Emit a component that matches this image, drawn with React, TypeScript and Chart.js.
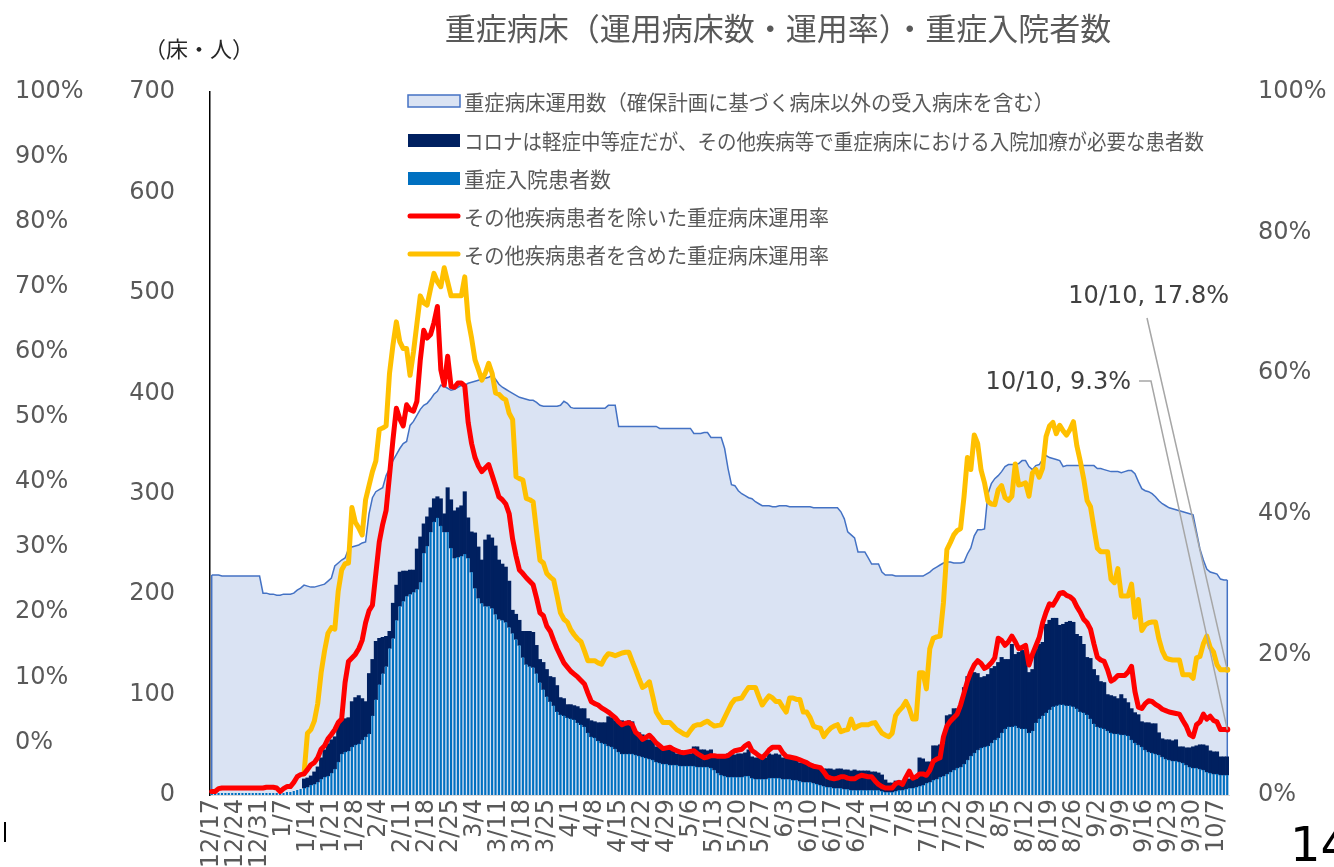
import React, { useEffect, useRef } from 'react';
import { Chart, registerables } from 'chart.js';

Chart.register(...registerables);

const TITLE = '重症病床（運用病床数・運用率）・重症入院者数';
const UNIT_LABEL = '（床・人）';
const LEGEND_LABELS = [
  '重症病床運用数（確保計画に基づく病床以外の受入病床を含む）',
  'コロナは軽症中等症だが、その他疾病等で重症病床における入院加療が必要な患者数',
  '重症入院患者数',
  'その他疾病患者を除いた重症病床運用率',
  'その他疾病患者を含めた重症病床運用率',
];
const ANNOT_DATE = '10/10';
const ANNOT_ORANGE = 17.8;
const ANNOT_RED = 9.3;
const PAGE_NO = '14';

// daily categories 2020/12/17 .. 2021/10/10
const N_DAYS = 298;
const CATEGORIES: string[] = [];
for (let i = 0; i < N_DAYS; i++) {
  const d = new Date(2020, 11, 17 + i);
  CATEGORIES.push(`${d.getMonth() + 1}/${d.getDate()}`);
}

const TICK_LABELS = ['12/17','12/24','12/31','1/7','1/14','1/21','1/28','2/4','2/11','2/18','2/25','3/4','3/11','3/18','3/25','4/1','4/8','4/15','4/22','4/29','5/6','5/13','5/20','5/27','6/3','6/10','6/17','6/24','7/1','7/8','7/15','7/22','7/29','8/5','8/12','8/19','8/26','9/2','9/9','9/16','9/23','9/30','10/7'];
const COUNT_TICKS = [0, 100, 200, 300, 400, 500, 600, 700];
const LEFT_PCT_TICKS = [0, 10, 20, 30, 40, 50, 60, 70, 80, 90, 100];
const RIGHT_PCT_TICKS = [0, 20, 40, 60, 80, 100];

// 重症病床運用数
const BEDS = [
  219,219,219,218,218,218,218,
  218,218,218,218,218,218,218,
  218,201,201,200,200,199,199,
  200,200,200,201,204,206,209,
  208,207,207,208,209,210,213,
  216,228,231,234,236,245,247,
  248,249,251,252,280,296,302,
  304,306,318,325,333,339,345,
  350,352,368,372,378,384,388,
  390,394,399,402,408,407,405,
  403,404,406,408,408,410,411,
  412,413,414,415,416,418,414,
  409,406,404,402,400,398,396,
  395,394,393,393,391,388,387,
  387,387,387,387,388,392,390,
  386,385,385,385,385,385,385,
  385,385,385,385,388,388,388,
  367,367,367,367,367,367,367,
  367,367,367,367,367,365,365,
  365,365,365,365,365,365,365,
  365,360,360,360,361,361,356,
  356,356,356,345,325,309,308,
  303,300,298,296,295,292,290,
  288,288,288,287,287,288,288,
  288,287,287,287,287,287,287,
  287,286,286,286,286,286,286,
  286,286,282,275,262,259,256,
  242,242,242,236,230,230,230,
  222,219,219,219,218,218,218,
  218,218,218,218,218,218,220,
  222,225,227,229,231,232,232,
  231,231,231,232,240,246,258,
  264,264,265,300,310,315,318,
  322,327,329,329,329,330,333,
  333,327,324,328,329,334,338,
  336,335,334,333,327,328,328,
  328,328,328,328,328,328,328,
  325,325,324,323,322,322,322,
  321,322,323,323,320,312,305,
  303,302,300,297,293,290,288,
  286,285,284,283,282,281,280,
  279,262,245,234,225,222,221,
  220,215,214,214,
];

// 重症入院患者数
const SEVERE = [
  1,1,2,2,2,2,2,
  2,2,2,2,2,2,2,
  2,2,2,2,2,2,1,
  2,3,3,4,5,6,7,
  8,10,11,13,16,18,19,
  22,26,33,41,43,44,48,
  50,51,55,58,61,79,95,
  110,121,128,146,156,174,188,
  193,198,200,202,205,212,241,
  248,262,272,276,268,262,262,
  246,236,237,238,240,236,222,
  206,196,191,188,188,186,180,
  175,174,172,167,161,155,149,
  137,130,128,127,121,112,105,
  98,93,89,83,80,79,77,
  76,75,72,70,68,62,58,
  57,54,52,51,49,48,46,
  43,41,41,41,41,40,39,
  38,37,36,35,33,32,31,
  31,30,30,30,29,29,29,
  29,29,28,28,28,28,27,
  25,22,20,19,18,18,18,
  18,18,19,19,17,16,16,
  16,16,17,17,17,17,16,
  16,16,15,15,14,13,13,
  13,12,11,10,9,8,8,
  7,7,7,6,6,5,5,
  5,5,5,5,5,5,5,
  4,3,3,3,4,5,5,
  6,7,7,8,9,10,12,
  13,15,16,18,19,21,23,
  25,27,28,31,35,39,42,
  45,47,48,49,52,55,57,
  62,66,68,68,69,67,66,
  66,62,64,72,76,79,82,
  85,88,89,90,90,89,89,
  88,86,83,82,80,76,71,
  68,67,66,64,62,61,61,
  60,60,59,55,52,50,48,
  45,43,42,41,40,38,36,
  35,34,34,33,32,30,28,
  27,27,26,25,23,22,21,
  21,20,20,20,
];

// コロナは軽症中等症だが、その他疾病等で重症病床における入院加療が必要な患者数
const OTHER = [
  null,null,null,null,null,null,null,
  null,null,null,null,null,null,null,
  null,null,null,null,null,null,null,
  null,null,null,null,null,null,9,
  9,9,12,15,21,27,32,
  33,32,37,35,33,33,45,
  47,48,41,35,60,56,58,
  46,36,30,17,35,35,34,
  30,25,24,22,40,45,29,
  29,24,23,21,27,18,44,
  48,47,49,50,62,40,40,
  55,51,43,66,71,70,68,
  59,56,55,46,23,25,25,
  26,33,35,35,28,23,27,
  27,25,28,26,17,17,13,
  14,14,16,16,18,14,16,
  16,18,20,21,29,29,28,
  31,33,32,33,32,22,23,
  22,18,19,19,15,16,16,
  14,15,14,11,12,11,12,
  12,19,20,17,17,16,18,
  13,15,17,19,23,23,22,
  23,23,23,26,21,21,21,
  20,21,24,23,24,23,21,
  21,21,21,22,18,19,18,
  18,15,15,16,17,18,18,
  18,19,19,19,19,19,20,
  19,19,19,19,18,18,17,
  16,12,9,9,10,9,9,
  10,9,9,8,28,26,21,
  20,34,33,32,32,58,57,
  61,59,58,76,83,82,80,
  76,70,70,71,74,73,75,
  75,69,67,82,71,75,78,
  77,60,61,73,74,73,88,
  89,88,87,79,80,83,84,
  84,74,75,68,57,60,54,
  51,46,46,36,37,37,35,
  40,36,33,31,30,30,25,
  27,29,29,30,22,18,19,
  20,20,21,15,16,17,19,
  21,22,24,25,26,22,22,
  22,18,18,18,
];

// その他疾病患者を除いた重症病床運用率 (%)
const RATE_EXCL = [
  0.5,0.5,0.9,1.0,1.0,1.0,1.0,
  1.0,1.0,1.0,1.0,1.0,1.0,1.0,
  1.0,1.0,1.1,1.1,1.1,1.0,0.5,
  0.9,1.2,1.2,1.8,2.6,2.9,3.0,
  3.6,4.3,4.6,5.3,6.5,7.0,8.0,
  8.6,9.3,10.3,10.8,16.0,19.0,19.5,
  20.0,20.8,22.0,24.5,26.2,27.0,31.5,
  36.0,38.5,40.5,45.5,50.5,55.0,53.5,
  52.5,55.5,54.8,54.6,56.0,61.9,66.1,
  65.0,65.5,67.2,69.5,60.5,58.3,62.4,
  58.1,58.0,58.6,58.6,58.2,53.0,50.0,
  48.0,46.8,46.0,46.5,47.0,45.5,44.0,
  42.4,42.0,41.4,40.0,36.4,34.0,32.0,
  31.5,30.9,30.4,29.9,28.0,25.9,25.5,
  24.0,23.3,22.0,20.8,19.8,18.8,18.2,
  17.6,17.2,16.8,16.3,15.8,14.5,13.3,
  13.0,12.8,12.4,12.1,11.8,11.4,11.0,
  10.4,10.0,10.2,10.3,10.0,8.9,8.5,
  7.9,8.2,8.5,8.0,7.4,7.0,6.6,
  6.7,6.8,6.5,6.3,6.1,6.0,6.1,
  6.2,6.3,5.9,5.6,5.3,5.4,5.6,
  5.6,5.5,5.5,5.5,5.6,6.0,6.3,
  6.4,6.5,7.0,7.3,6.3,6.0,5.6,
  5.3,5.8,6.4,6.8,6.8,6.8,6.0,
  5.5,5.4,5.3,5.2,5.0,4.8,4.6,
  4.3,4.1,4.0,3.9,3.3,2.6,2.4,
  2.3,2.4,2.6,2.6,2.4,2.3,2.3,
  2.6,2.8,2.7,2.6,2.6,2.0,1.5,
  1.2,1.0,1.0,1.0,1.6,1.8,1.5,
  2.5,3.4,2.4,2.6,3.0,3.0,2.8,
  3.5,4.8,5.1,5.3,8.3,9.8,10.5,
  11.0,11.5,12.8,14.5,16.2,17.5,18.5,
  19.1,18.7,18.0,18.3,18.8,19.5,22.3,
  22.0,21.3,21.8,22.6,21.8,20.8,21.0,
  21.3,18.5,20.0,21.2,22.4,24.5,26.0,
  27.2,27.0,27.8,28.7,28.8,28.4,28.2,
  27.8,26.8,26.0,25.0,24.5,23.6,21.5,
  19.6,19.2,19.0,17.8,16.2,16.5,17.0,
  17.0,17.0,17.5,18.3,14.7,12.5,12.3,
  13.0,13.4,13.3,12.9,12.6,12.2,12.0,
  11.8,11.7,11.6,11.5,10.6,9.8,8.6,
  8.3,10.0,10.4,11.5,10.8,11.2,10.6,
  10.4,9.3,9.3,9.3,
];

// その他疾病患者を含めた重症病床運用率 (%)
const RATE_INCL = [
  null,null,null,null,null,null,null,
  null,null,null,null,null,null,null,
  null,null,null,null,null,null,null,
  null,null,null,null,null,null,3.0,
  8.8,9.3,10.5,13.0,17.4,20.5,23.0,
  23.8,23.6,29.0,32.0,32.9,33.0,40.9,
  38.8,38.0,37.0,42.0,44.0,46.0,47.5,
  52.0,52.2,52.5,60.0,64.0,67.3,64.5,
  63.5,63.5,59.7,63.0,67.0,71.0,70.0,
  69.7,72.0,74.2,73.0,72.3,75.0,73.0,
  71.0,71.0,71.0,71.0,73.7,67.6,65.0,
  61.9,60.5,59.0,60.0,61.4,60.0,57.2,
  57.0,56.5,56.2,54.3,53.4,45.3,45.0,
  44.8,42.2,42.0,41.7,37.5,33.4,33.0,
  31.5,31.0,30.6,28.3,25.9,25.0,24.6,
  23.5,22.8,22.2,21.8,20.5,19.1,19.1,
  19.1,18.8,18.6,19.5,20.1,20.0,19.8,
  20.0,20.2,20.3,20.3,19.0,17.8,16.5,
  15.3,15.6,16.1,14.0,11.8,11.0,10.3,
  10.3,10.3,9.8,9.3,9.0,8.7,8.5,
  9.2,9.8,10.0,10.0,10.3,10.5,10.1,
  9.8,9.9,10.0,11.0,12.0,13.0,13.6,
  13.7,13.8,14.6,15.3,15.3,15.3,14.0,
  12.8,13.5,14.1,13.8,13.3,13.3,12.5,
  11.8,13.8,13.8,13.6,13.6,11.8,11.8,
  11.0,9.8,9.6,9.5,8.3,9.0,9.5,
  9.8,10.0,9.0,9.2,9.3,10.8,9.5,
  9.8,10.0,10.0,10.0,10.2,10.3,9.5,
  8.8,8.5,8.3,8.8,11.3,12.0,12.5,
  13.3,12.3,10.8,10.8,17.4,17.4,15.1,
  20.8,22.3,22.5,22.6,27.4,34.9,35.9,
  37.0,37.6,37.9,42.4,48.0,46.3,51.2,
  50.0,46.2,44.4,41.8,41.4,41.3,43.4,
  44.0,42.3,41.9,42.5,47.1,44.1,44.2,
  44.4,42.5,45.8,46.3,45.2,46.5,51.0,
  52.5,53.0,51.4,52.6,51.8,51.2,52.0,
  53.1,49.7,47.5,45.0,41.9,41.0,38.0,
  35.1,34.6,34.6,34.6,30.7,30.2,32.2,
  28.3,28.3,28.3,30.0,25.3,27.8,23.4,
  24.2,24.5,24.6,24.6,22.2,20.5,19.5,
  19.3,19.2,19.2,19.2,17.1,17.1,17.1,
  16.6,19.5,19.7,21.5,22.6,21.0,20.3,
  18.5,17.8,17.8,17.8,
];

const C_AREA_FILL = '#DAE3F3';
const C_AREA_LINE = '#4472C4';
const C_NAVY = '#002060';
const C_BLUE = '#0070C0';
const C_RED = '#FF0000';
const C_ORANGE = '#FFC000';
const C_TEXT = '#595959';
const NUM_FONT = '"DejaVu Sans", Verdana, sans-serif';
const JP_FONT = '"Noto Sans CJK JP", "Noto Sans", sans-serif';

const overlayPlugin = {
  id: 'overlay',
  afterDatasetDraw(chart: any, args: any) {
    if (args.index !== 0) return;
    const pts = args.meta.data;
    if (!pts || !pts.length) return;
    const ctx = chart.ctx;
    const base = chart.scales.y.getPixelForValue(0);
    ctx.save();
    ctx.strokeStyle = C_AREA_LINE;
    ctx.lineWidth = 1.5;
    ctx.beginPath();
    ctx.moveTo(pts[0].x, pts[0].y);
    ctx.lineTo(pts[0].x, base);
    ctx.moveTo(pts[pts.length - 1].x, pts[pts.length - 1].y);
    ctx.lineTo(pts[pts.length - 1].x, base);
    ctx.stroke();
    ctx.restore();
  },
  afterDraw(chart: any) {
    const ctx = chart.ctx;
    ctx.save();
    // title
    ctx.fillStyle = C_TEXT;
    ctx.font = `31px ${JP_FONT}`;
    ctx.textAlign = 'center';
    ctx.textBaseline = 'middle';
    ctx.fillText(TITLE, 778, 28);
    // unit label
    ctx.fillStyle = '#262626';
    ctx.font = `22px ${JP_FONT}`;
    ctx.fillText(UNIT_LABEL, 199, 49);

    // legend
    const lx = 408, lw = 52, tx = 464;
    const rows = [101, 140, 178, 216, 254];
    const widths = [590, 740, 152, 365, 365];
    ctx.fillStyle = C_AREA_FILL;
    ctx.fillRect(lx, rows[0] - 6, lw, 12);
    ctx.strokeStyle = C_AREA_LINE;
    ctx.lineWidth = 1.5;
    ctx.strokeRect(lx, rows[0] - 6, lw, 12);
    ctx.fillStyle = C_NAVY;
    ctx.fillRect(lx, rows[1] - 6, lw, 13);
    ctx.fillStyle = C_BLUE;
    ctx.fillRect(lx, rows[2] - 6, lw, 13);
    ctx.lineCap = 'round';
    ctx.lineWidth = 5;
    ctx.strokeStyle = C_RED;
    ctx.beginPath(); ctx.moveTo(lx + 2, rows[3]); ctx.lineTo(lx + lw - 2, rows[3]); ctx.stroke();
    ctx.strokeStyle = C_ORANGE;
    ctx.beginPath(); ctx.moveTo(lx + 2, rows[4]); ctx.lineTo(lx + lw - 2, rows[4]); ctx.stroke();
    ctx.fillStyle = C_TEXT;
    ctx.font = `21px ${JP_FONT}`;
    ctx.textAlign = 'left';
    ctx.textBaseline = 'middle';
    LEGEND_LABELS.forEach((t, i) => {
      const natural = ctx.measureText(t).width;
      if (natural > widths[i]) ctx.fillText(t, tx, rows[i] + 1, widths[i]);
      else ctx.fillText(t, tx, rows[i] + 1);
    });

    // annotations with leader lines
    const xs = chart.scales.x;
    const y2 = chart.scales.y2;
    const lastIdx = N_DAYS - 1;
    const px = xs.getPixelForValue(lastIdx);
    const oy = y2.getPixelForValue(RATE_INCL[lastIdx] as number);
    const ry = y2.getPixelForValue(RATE_EXCL[lastIdx]);
    ctx.lineCap = 'butt';
    ctx.strokeStyle = '#A6A6A6';
    ctx.lineWidth = 1.5;
    ctx.beginPath(); ctx.moveTo(1147, 318); ctx.lineTo(px, oy); ctx.stroke();
    ctx.beginPath(); ctx.moveTo(1139, 381); ctx.lineTo(1151, 381); ctx.lineTo(px, ry); ctx.stroke();
    ctx.fillStyle = '#404040';
    ctx.font = `24px ${NUM_FONT}`;
    ctx.textAlign = 'right';
    ctx.fillText(`${ANNOT_DATE}, ${ANNOT_ORANGE.toFixed(1)}%`, 1229, 297);
    ctx.fillText(`${ANNOT_DATE}, ${ANNOT_RED.toFixed(1)}%`, 1131, 383);

    // page number and edge mark
    ctx.fillStyle = '#000';
    ctx.font = `48px ${NUM_FONT}`;
    ctx.textAlign = 'left';
    ctx.textBaseline = 'alphabetic';
    ctx.fillText(PAGE_NO, 1290, 861);
    ctx.fillRect(4, 822, 2, 20);
    ctx.restore();
  },
};

export default function App() {
  const ref = useRef<HTMLCanvasElement | null>(null);
  useEffect(() => {
    if (!ref.current) return;
    Chart.defaults.font.family = NUM_FONT;
    Chart.defaults.font.size = 24;
    Chart.defaults.color = C_TEXT;
    const tickSet = new Set(TICK_LABELS);
    const chart = new Chart(ref.current, {
      type: 'bar',
      data: {
        labels: CATEGORIES,
        datasets: [
          {
            type: 'line',
            label: LEGEND_LABELS[0],
            data: BEDS,
            yAxisID: 'y',
            stack: 'area',
            fill: 'origin',
            backgroundColor: C_AREA_FILL,
            borderColor: C_AREA_LINE,
            borderWidth: 1.5,
            pointRadius: 0,
            tension: 0,
            order: 10,
          } as any,
          {
            type: 'bar',
            label: LEGEND_LABELS[2],
            data: SEVERE,
            yAxisID: 'y',
            stack: 'bars',
            backgroundColor: C_BLUE,
            borderWidth: 0,
            barPercentage: 0.62,
            categoryPercentage: 1,
            order: 3,
          },
          {
            type: 'bar',
            label: LEGEND_LABELS[1],
            data: OTHER,
            yAxisID: 'y',
            stack: 'bars',
            backgroundColor: C_NAVY,
            borderWidth: 0,
            barPercentage: 1,
            categoryPercentage: 1,
            order: 4,
          },
          {
            type: 'line',
            label: LEGEND_LABELS[4],
            data: RATE_INCL,
            yAxisID: 'y2',
            borderColor: C_ORANGE,
            backgroundColor: C_ORANGE,
            borderWidth: 5,
            pointRadius: (c: any) => (c.dataIndex === N_DAYS - 1 ? 3 : 0),
            pointBorderWidth: 0,
            borderJoinStyle: 'round',
            borderCapStyle: 'round',
            tension: 0,
            fill: false,
            order: 1,
          } as any,
          {
            type: 'line',
            label: LEGEND_LABELS[3],
            data: RATE_EXCL,
            yAxisID: 'y2',
            borderColor: C_RED,
            backgroundColor: C_RED,
            borderWidth: 5,
            pointRadius: (c: any) => (c.dataIndex === N_DAYS - 1 ? 3 : 0),
            pointBorderWidth: 0,
            borderJoinStyle: 'round',
            borderCapStyle: 'round',
            tension: 0,
            fill: false,
            order: 0,
          } as any,
        ],
      },
      options: {
        responsive: false,
        maintainAspectRatio: false,
        animation: false,
        devicePixelRatio: 1,
        events: [],
        layout: { padding: { top: 92, left: 15, right: 0, bottom: 0 } },
        plugins: {
          legend: { display: false },
          title: { display: false },
          tooltip: { enabled: false },
        },
        scales: {
          x: {
            type: 'category',
            offset: true,
            grid: { display: false, drawTicks: false },
            border: { display: true, color: '#D9D9D9', width: 1 },
            ticks: {
              autoSkip: false,
              maxRotation: 90,
              minRotation: 90,
              padding: 4,
              color: C_TEXT,
              font: { size: 24 },
              callback: (_v: any, i: number) => (tickSet.has(CATEGORIES[i]) ? CATEGORIES[i] : ''),
            },
            afterFit: (s: any) => { s.height = 72; },
          },
          y: {
            position: 'left',
            weight: 0,
            stacked: true,
            min: 0,
            max: 700,
            grid: { display: false, drawTicks: false },
            border: { display: true, color: '#000000', width: 1.5 },
            ticks: { padding: 35, color: C_TEXT, font: { size: 24 } },
            afterBuildTicks: (s: any) => { s.ticks = COUNT_TICKS.map((v) => ({ value: v })); },
            afterFit: (s: any) => { s.width = 85; },
          },
          yL: {
            position: 'left',
            weight: 10,
            min: -8.1,
            max: 100,
            grid: { display: false, drawTicks: false },
            border: { display: false },
            ticks: { crossAlign: 'far', padding: 0, color: C_TEXT, font: { size: 24 }, callback: (v: any) => `${v}%` },
            afterBuildTicks: (s: any) => { s.ticks = LEFT_PCT_TICKS.map((v) => ({ value: v })); },
            afterFit: (s: any) => { s.width = 110; },
          },
          y2: {
            position: 'right',
            min: 0,
            max: 100,
            grid: { display: false, drawTicks: false },
            border: { display: false },
            ticks: { padding: 29, color: C_TEXT, font: { size: 24 }, callback: (v: any) => `${v}%` },
            afterBuildTicks: (s: any) => { s.ticks = RIGHT_PCT_TICKS.map((v) => ({ value: v })); },
            afterFit: (s: any) => { s.width = 105; },
          },
        },
      } as any,
      plugins: [overlayPlugin],
    });
    return () => chart.destroy();
  }, []);

  return (
    <div style={{ position: 'fixed', left: 0, top: 0, width: 1334, height: 867, background: '#fff', overflow: 'hidden' }}>
      <canvas ref={ref} width={1334} height={867} style={{ display: 'block', width: 1334, height: 867 }} />
    </div>
  );
}
